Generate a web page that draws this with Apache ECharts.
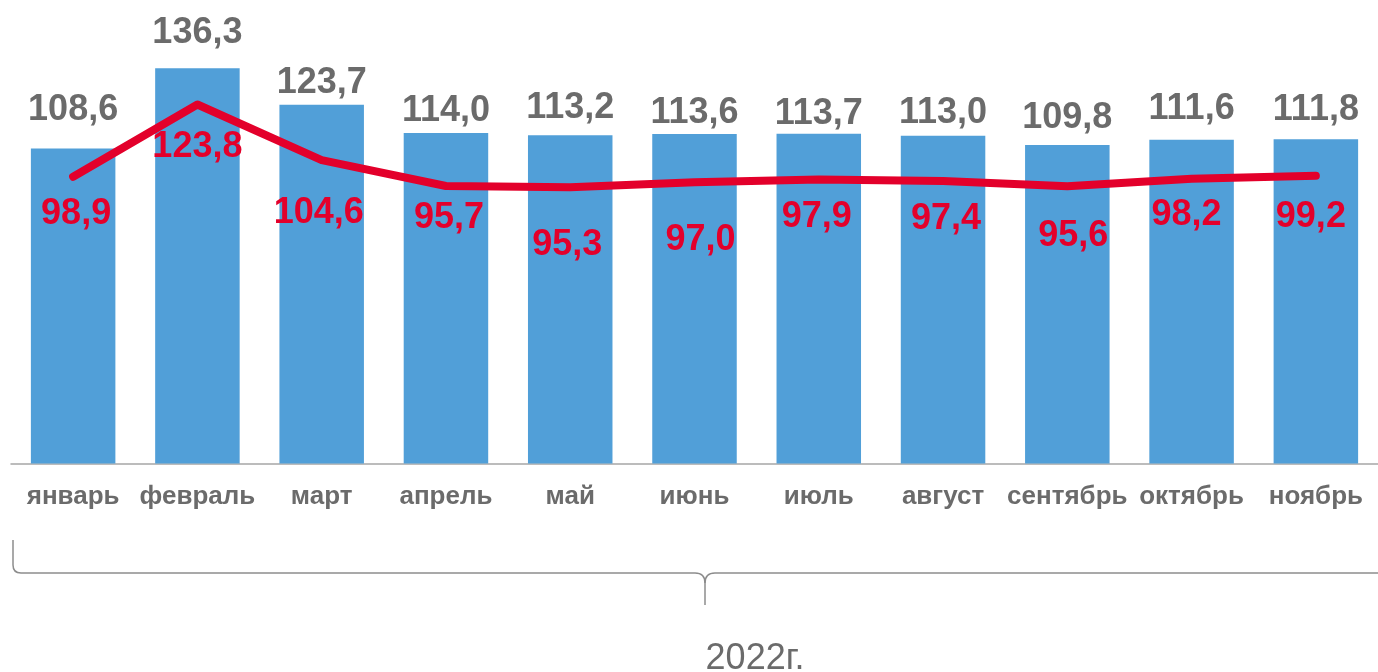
<!DOCTYPE html>
<html>
<head>
<meta charset="utf-8">
<script src="https://cdn.jsdelivr.net/npm/echarts@6/dist/echarts.min.js"></script>
<style>
  html, body { margin: 0; padding: 0; background: #fff; }
  #main { width: 1378px; height: 672px; }
</style>
</head>
<body>
<div id="main"></div>
<script>
// данные
const months = ['январь', 'февраль', 'март', 'апрель', 'май', 'июнь', 'июль', 'август', 'сентябрь', 'октябрь', 'ноябрь'];
const barValues = [108.6, 136.3, 123.7, 114.0, 113.2, 113.6, 113.7, 113.0, 109.8, 111.6, 111.8];
const lineValues = [98.9, 123.8, 104.6, 95.7, 95.3, 97.0, 97.9, 97.4, 95.6, 98.2, 99.2];
const yearLabel = '2022г.';

// смещения подписей (как в исходной картинке)
const barLabelShift = [-15, -12, 1, 1.5, -4.5, 2.5, 3, 0, -4, -7.5, -6];
const lineLabelShift = [[3, 37], [0, 42.5], [-3, 53], [3, 32], [-3, 58], [6, 58], [-2, 37], [3, 38.5], [6, 50], [-5, 36], [-5, 41]];

const fmt = v => v.toFixed(1).replace('.', ',');

// фигурная скобка под осью
const braceStyle = { fill: null, stroke: '#8c8c8c', lineWidth: 1.5 };
const brace = [
    { type: 'line', shape: { x1: 13, y1: 540, x2: 13, y2: 565 } },
    { type: 'bezierCurve', shape: { x1: 13, y1: 565, cpx1: 13, cpy1: 573, x2: 21, y2: 573 } },
    { type: 'line', shape: { x1: 21, y1: 573, x2: 695, y2: 573 } },
    { type: 'bezierCurve', shape: { x1: 695, y1: 573, cpx1: 705, cpy1: 573, x2: 705, y2: 583 } },
    { type: 'line', shape: { x1: 705, y1: 583, x2: 705, y2: 605 } },
    { type: 'bezierCurve', shape: { x1: 705, y1: 583, cpx1: 705, cpy1: 573, x2: 715, y2: 573 } },
    { type: 'line', shape: { x1: 715, y1: 573, x2: 1380, y2: 573 } }
].map(g => Object.assign(g, { style: braceStyle, silent: true }));

let myChart = echarts.init(document.getElementById('main'));
myChart.setOption({
    animation: false,
    textStyle: { fontFamily: 'Liberation Sans, Arial, sans-serif' },
    title: {
        text: yearLabel,
        left: 750,
        textAlign: 'center',
        top: 636,
        textStyle: { fontSize: 36, fontWeight: 'normal', color: '#6b6b6b' }
    },
    grid: { left: 11, right: -16, top: 28.5, bottom: 208.5 },
    xAxis: {
        type: 'category',
        data: months,
        axisLine: { lineStyle: { color: '#a6a6a6', width: 1.5 } },
        axisTick: { length: 8, lineStyle: { color: '#a6a6a6', width: 1.5 } },
        axisLabel: { margin: 20, fontSize: 26, fontWeight: 'bold', color: '#6b6b6b', interval: 0 }
    },
    yAxis: {
        type: 'value',
        min: 0,
        max: 150,
        show: false,
        splitLine: { show: false }
    },
    graphic: brace,
    series: [
        {
            type: 'bar',
            data: barValues.map((v, i) => ({
                value: v,
                label: { offset: [0, barLabelShift[i]] }
            })),
            barWidth: '68%',
            itemStyle: { color: '#519fd8' },
            label: {
                show: true,
                position: 'top',
                distance: 5,
                fontSize: 36,
                fontWeight: 'bold',
                color: '#6b6b6b',
                formatter: p => fmt(p.value)
            }
        },
        {
            type: 'line',
            data: lineValues.map((v, i) => ({
                value: v,
                label: {
                    position: [0.5 + lineLabelShift[i][0], 0.5 + lineLabelShift[i][1]]
                }
            })),
            symbol: 'circle',
            symbolSize: 1,
            itemStyle: { color: '#e3002b' },
            lineStyle: { color: '#e3002b', width: 8, cap: 'round', join: 'round' },
            label: {
                show: true,
                align: 'center',
                verticalAlign: 'middle',
                fontSize: 36,
                fontWeight: 'bold',
                color: '#e3002b',
                formatter: p => fmt(p.value)
            },
            labelLayout: { hideOverlap: false },
            z: 3
        }
    ]
});
</script>
</body>
</html>
